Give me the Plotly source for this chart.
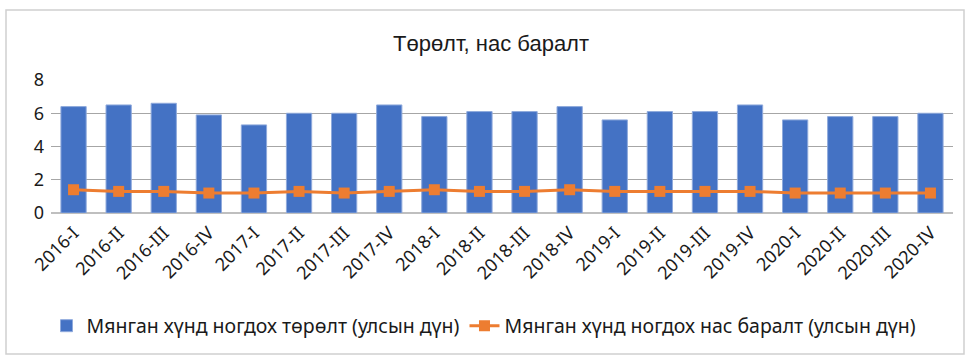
import plotly.graph_objects as go

quarters = ["2016-I", "2016-II", "2016-III", "2016-IV",
            "2017-I", "2017-II", "2017-III", "2017-IV",
            "2018-I", "2018-II", "2018-III", "2018-IV",
            "2019-I", "2019-II", "2019-III", "2019-IV",
            "2020-I", "2020-II", "2020-III", "2020-IV"]
births = [6.4, 6.5, 6.6, 5.9, 5.3, 6.0, 6.0, 6.5, 5.8, 6.1,
          6.1, 6.4, 5.6, 6.1, 6.1, 6.5, 5.6, 5.8, 5.8, 6.0]
deaths = [1.4, 1.3, 1.3, 1.2, 1.2, 1.3, 1.2, 1.3, 1.4, 1.3,
          1.3, 1.4, 1.3, 1.3, 1.3, 1.3, 1.2, 1.2, 1.2, 1.2]
y_ticks = [0, 2, 4, 6, 8]

W, H = 965, 355
ML, MR, MT, MB = 51, 12, 80, 142
FONT = "Noto Sans"
TXT = "#1a1a1a"

fig = go.Figure()
fig.add_trace(go.Bar(
    x=quarters, y=births,
    name="Мянган хүнд ногдох төрөлт (улсын дүн)",
    marker=dict(color="#4472C4", line=dict(color="#8FAADC", width=1)),
    width=0.56,
))
fig.add_trace(go.Scatter(
    x=quarters, y=deaths, mode="lines+markers",
    name="Мянган хүнд ногдох нас баралт (улсын дүн)",
    line=dict(color="#ED7D31", width=3),
    marker=dict(symbol="square", size=11, color="#ED7D31"),
))

# outer chart frame (pixel coordinates converted to paper space)
pw, ph = W - ML - MR, H - MT - MB
def px(x):
    return (x - ML) / pw
def py(y):
    return (H - MB - y) / ph

fig.add_shape(type="rect", xref="paper", yref="paper",
              x0=px(6), x1=px(964), y0=py(354), y1=py(10),
              line=dict(color="#D0D0D0", width=1.5), layer="below")

fig.update_layout(
    width=W, height=H,
    margin=dict(l=ML, r=MR, t=MT, b=MB, autoexpand=False),
    paper_bgcolor="white", plot_bgcolor="white",
    font=dict(family=FONT, color=TXT),
    title=dict(text="Төрөлт, нас баралт", x=px(491), xanchor="center",
               xref="paper", y=1 - 43 / H, yanchor="middle",
               font=dict(size=22, family="Liberation Sans", color=TXT)),
    bargap=0.44,
    showlegend=True,
    legend=dict(orientation="h", x=px(484), xanchor="center",
                y=py(326), yanchor="middle",
                font=dict(size=19.5, family=FONT, color=TXT),
                itemwidth=30, tracegroupgap=0),
    xaxis=dict(type="category", tickangle=-45, automargin=False,
               range=[-0.5, len(quarters) - 0.5],
               tickfont=dict(size=18, family=FONT, color=TXT),
               showgrid=False, showline=False, ticks="",
               ticklabelstandoff=5),
    yaxis=dict(range=[0, 8], tickvals=y_ticks, automargin=False,
               tickfont=dict(size=18, family=FONT, color=TXT),
               showgrid=True, gridcolor="#A6A6A6", gridwidth=1,
               zeroline=True, zerolinecolor="#BFBFBF", zerolinewidth=2,
               ticks="", ticklabelstandoff=6),
)

fig.write_html("out.html")
